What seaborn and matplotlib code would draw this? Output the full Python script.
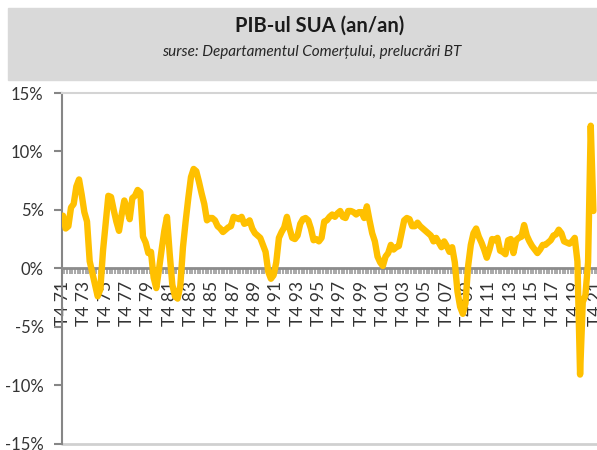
import numpy as np
import pandas as pd
import matplotlib
matplotlib.use("Agg")
import matplotlib.pyplot as plt
from matplotlib.patches import Rectangle
import seaborn as sns

# date: PIB SUA an/an, trimestrial, T4 1971 - T3 2021
pib = [
    4.5,                      # T4 71
    3.4, 3.6, 5.2, 5.5,       # 1972
    7.0, 7.6, 6.3, 4.8,       # 1973
    4.0, 0.6, -0.4, -1.4,     # 1974
    -2.4, -1.8, 1.5, 3.9,     # 1975
    6.2, 6.1, 5.0, 4.0,       # 1976
    3.2, 4.6, 5.8, 5.1,       # 1977
    4.2, 6.0, 6.2, 6.7,       # 1978
    6.5, 2.7, 2.2, 1.3,       # 1979
    1.4, -0.8, -1.7, -0.1,    # 1980
    1.6, 3.2, 4.4, 1.3,       # 1981
    -1.4, -2.4, -2.6, -1.5,   # 1982
    1.8, 4.0, 6.0, 7.8,       # 1983
    8.5, 8.3, 7.4, 6.4,       # 1984
    5.5, 4.1, 4.3, 4.3,       # 1985
    4.1, 3.6, 3.4, 3.1,       # 1986
    3.3, 3.5, 3.6, 4.4,       # 1987
    4.3, 4.2, 4.4, 3.8,       # 1988
    3.9, 4.1, 3.4, 3.0,       # 1989
    2.8, 2.6, 2.0, 1.4,       # 1990
    -0.3, -0.9, -0.6, 0.5,    # 1991
    2.6, 3.1, 3.5, 4.4,       # 1992
    3.4, 2.6, 2.5, 2.8,       # 1993
    3.8, 4.2, 4.3, 4.1,       # 1994
    3.4, 2.4, 2.5, 2.3,       # 1995
    2.6, 4.0, 4.1, 4.4,       # 1996
    4.6, 4.4, 4.7, 4.9,       # 1997
    4.4, 4.3, 4.9, 4.9,       # 1998
    4.8, 4.6, 4.8, 4.8,       # 1999
    4.3, 5.3, 4.1, 3.0,       # 2000
    2.3, 1.0, 0.5, 0.2,       # 2001
    1.0, 1.3, 2.0, 1.6,       # 2002
    1.8, 1.9, 3.0, 4.1,       # 2003
    4.3, 4.2, 3.6, 3.6,       # 2004
    3.9, 3.6, 3.4, 3.2,       # 2005
    3.0, 2.8, 2.3, 2.6,       # 2006
    2.2, 1.8, 2.3, 1.9,       # 2007
    1.4, 1.8, 0.5, -2.0,      # 2008
    -3.3, -3.9, -3.0, 0.2,    # 2009
    2.0, 3.0, 3.4, 2.7,       # 2010
    2.2, 1.6, 0.9, 1.6,       # 2011
    2.5, 2.4, 2.6, 1.5,       # 2012
    1.4, 1.2, 2.4, 2.5,       # 2013
    1.3, 2.4, 2.6, 2.7,       # 2014
    3.7, 2.8, 2.3, 1.9,       # 2015
    1.6, 1.3, 1.6, 2.0,       # 2016
    2.0, 2.2, 2.4, 2.8,       # 2017
    2.9, 3.3, 3.0, 2.3,       # 2018
    2.2, 2.1, 2.3, 2.6,       # 2019
    0.6, -9.1, -2.9, -2.3,    # 2020
    0.5, 12.2, 4.9,           # 2021
]
# etichete axa X: T4 71, T4 73, ... T4 21
ani_etichete = list(range(71, 100, 2)) + list(range(1, 22, 2))
etichete_x = ["T4 %02d" % a for a in ani_etichete]
etichete_y = ["-15%", "-10%", "-5%", "0%", "5%", "10%", "15%"]
valori_y = [-15, -10, -5, 0, 5, 10, 15]

df = pd.DataFrame({"trim": np.arange(len(pib)), "pib": pib})

sns.set_style("white")
plt.rcParams["font.family"] = ["Lato", "DejaVu Sans"]

fig = plt.figure(figsize=(5.97, 4.5), dpi=100)

# caseta gri de titlu
fig.patches.append(Rectangle((8 / 597, 1 - 80 / 450), 589 / 597, 72 / 450,
                             transform=fig.transFigure, color="#d9d9d9", zorder=0))
fig.text(320 / 597, 1 - 26 / 450, "PIB-ul SUA (an/an)", ha="center", va="center",
         fontsize=14.5, fontweight="bold", color="#1a1a1a")
fig.text(312 / 597, 1 - 52 / 450, "surse: Departamentul Comerțului, prelucrări BT",
         ha="center", va="center", fontsize=11, style="italic", color="#262626")

ax = fig.add_axes([61.7 / 597, 6.5 / 450, 535.7 / 597, 350.5 / 450])
sns.lineplot(data=df, x="trim", y="pib", color="#FFC000", linewidth=4.6,
             solid_joinstyle="round", solid_capstyle="round", ax=ax, zorder=3)

# axa X trece prin 0 (inainte de setarea tick-urilor)
ax.spines["bottom"].set_position(("data", 0))
ax.spines["bottom"].set_color("#8c8c8c")
ax.spines["bottom"].set_linewidth(2)
ax.spines["left"].set_color("#868686")
ax.spines["left"].set_linewidth(1.5)
ax.spines["top"].set_color("#d4d4d4")
ax.spines["top"].set_linewidth(1.5)
ax.spines["right"].set_visible(False)

ax.set_xlim(-0.5, 200.5)
ax.set_ylim(-15, 15)
ax.set_xlabel("")
ax.set_ylabel("")

ax.set_yticks(valori_y)
ax.set_yticklabels(etichete_y)
ax.set_xticks(np.arange(0, 201, 8))
ax.set_xticklabels(etichete_x)
ax.set_xticks(np.arange(-0.5, 201, 1), minor=True)

ax.tick_params(axis="y", direction="out", length=6, width=1.5, color="#868686",
               labelsize=12, labelcolor="#333333", pad=7, left=True)
ax.tick_params(axis="x", which="major", length=0, labelsize=12.5,
               labelcolor="#333333", pad=9, bottom=True, labelrotation=90)
ax.tick_params(axis="x", which="minor", direction="out", length=4, width=1.2,
               color="#9a9a9a", bottom=True)
for lab in ax.get_xticklabels():
    lab.set_va("top")
    lab.set_ha("center")

ax.axhline(-15, color="#d0d0d0", linewidth=2, clip_on=False, zorder=1)
ax.grid(False)

fig.savefig("out.png", dpi=100)
